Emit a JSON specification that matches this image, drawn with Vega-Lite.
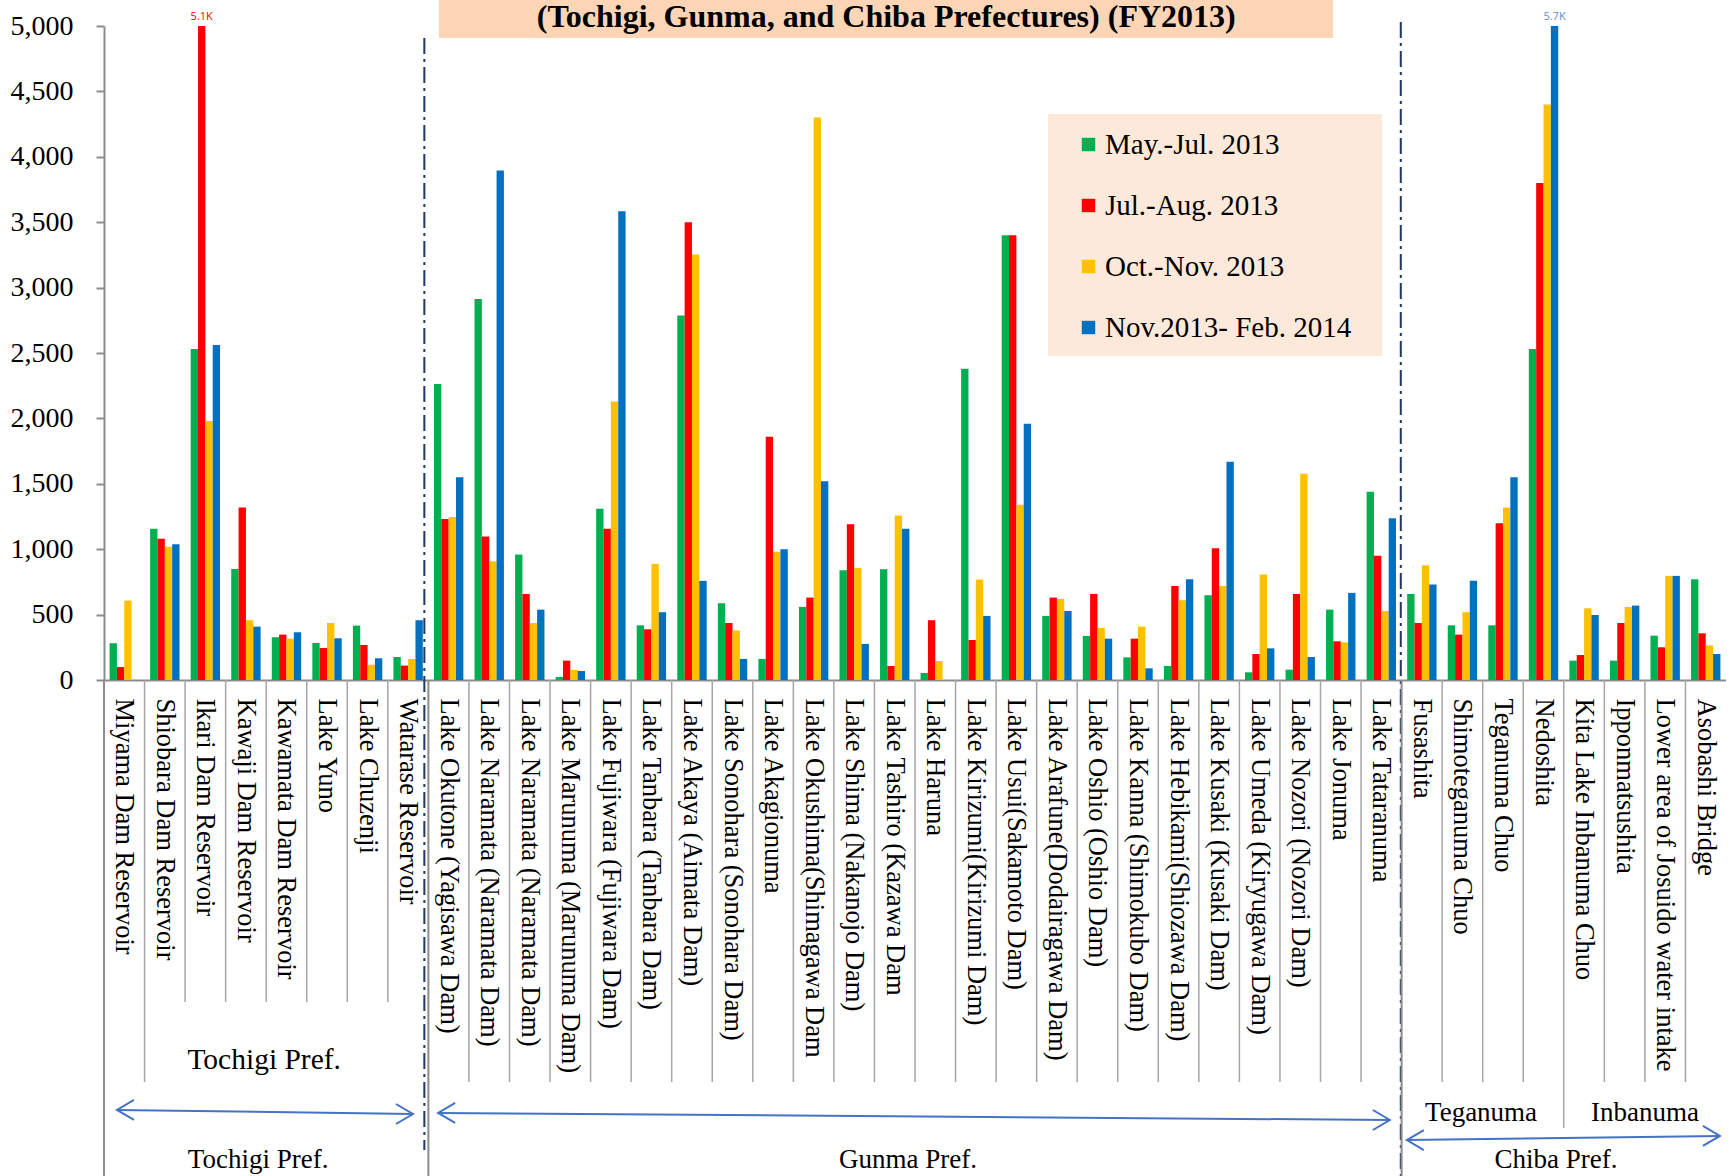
{
  "$schema": "https://vega.github.io/schema/vega-lite/v6.json",
  "width": 1622,
  "height": 654,
  "autosize": {"type": "none"},
  "padding": {"left": 104, "top": 26, "right": 0, "bottom": 496},
  "background": "white",
  "config": {
    "view": {"stroke": null},
    "font": "Liberation Serif",
    "axisY": {
      "gridColor": "#8C8C8C", "gridDash": [16, 6], "gridWidth": 2,
      "domainColor": "#8C8C8C", "domainWidth": 2,
      "tickColor": "#8C8C8C", "tickSize": 8, "tickWidth": 2,
      "labelFont": "Liberation Serif", "labelFontSize": 28, "labelColor": "black", "labelPadding": 23
    },
    "axisX": {
      "labelAngle": 90, "labelAlign": "left", "labelBaseline": "middle",
      "labelFont": "Liberation Serif", "labelFontSize": 26.5, "labelColor": "black",
      "labelPadding": 18, "ticks": false, "domainColor": "#8C8C8C", "domainWidth": 2,
      "labelLimit": 500, "labelOverlap": false, "grid": false
    }
  },
  "layer": [
    {
      "data": {"values": [{}]},
      "layer": [
        {
          "mark": {"type": "rect", "fill": "#FBD5B5"},
          "encoding": {
            "x": {"datum": 8.26, "type": "quantitative", "scale": {"domain": [0, 40], "nice": false, "zero": false}, "axis": null},
            "x2": {"datum": 30.31},
            "y": {"datum": 5250, "type": "quantitative", "axis": {"title": null}},
            "y2": {"datum": 4908}
          }
        },
        {
          "mark": {"type": "rect", "fill": "#FDE9D9"},
          "encoding": {
            "x": {"datum": 23.28, "type": "quantitative", "axis": null},
            "x2": {"datum": 31.52},
            "y": {"datum": 4327, "type": "quantitative", "axis": {"title": null}},
            "y2": {"datum": 2477}
          }
        },
        {
          "mark": {"type": "text", "text": "(Tochigi, Gunma, and Chiba Prefectures) (FY2013)", "font": "Liberation Serif", "fontSize": 32, "fontWeight": "bold", "color": "black", "align": "center", "baseline": "middle"},
          "encoding": {
            "x": {"datum": 19.29, "type": "quantitative", "axis": null},
            "y": {"datum": 5065, "type": "quantitative", "axis": {"title": null}}
          }
        },
        {
          "mark": {"type": "rule", "color": "#1F3864", "strokeWidth": 2, "strokeDash": [16, 5, 3, 5]},
          "encoding": {
            "x": {"datum": 7.9, "type": "quantitative", "axis": null},
            "y": {"datum": 4908, "type": "quantitative", "axis": {"title": null}},
            "y2": {"datum": -3593}
          }
        },
        {
          "mark": {"type": "rule", "color": "#1F3864", "strokeWidth": 2, "strokeDash": [16, 5, 3, 5]},
          "encoding": {
            "x": {"datum": 31.98, "type": "quantitative", "axis": null},
            "y": {"datum": 5031, "type": "quantitative", "axis": {"title": null}},
            "y2": {"datum": -3800}
          }
        },
        {
          "mark": {"type": "text", "text": "Tochigi Pref.", "fontSize": 29.5, "color": "black", "align": "center", "baseline": "middle"},
          "encoding": {
            "x": {"datum": 3.95, "type": "quantitative", "axis": null},
            "y": {"datum": -2905, "type": "quantitative", "axis": {"title": null}}
          }
        },
        {
          "mark": {"type": "text", "text": "Tochigi Pref.", "fontSize": 27, "color": "black", "align": "center", "baseline": "middle"},
          "encoding": {
            "x": {"datum": 3.8, "type": "quantitative", "axis": null},
            "y": {"datum": -3670, "type": "quantitative", "axis": {"title": null}}
          }
        },
        {
          "mark": {"type": "text", "text": "Gunma Pref.", "fontSize": 27, "color": "black", "align": "center", "baseline": "middle"},
          "encoding": {
            "x": {"datum": 19.83, "type": "quantitative", "axis": null},
            "y": {"datum": -3670, "type": "quantitative", "axis": {"title": null}}
          }
        },
        {
          "mark": {"type": "text", "text": "Chiba Pref.", "fontSize": 27, "color": "black", "align": "center", "baseline": "middle"},
          "encoding": {
            "x": {"datum": 35.81, "type": "quantitative", "axis": null},
            "y": {"datum": -3670, "type": "quantitative", "axis": {"title": null}}
          }
        },
        {
          "mark": {"type": "text", "text": "Teganuma", "fontSize": 27, "color": "black", "align": "center", "baseline": "middle"},
          "encoding": {
            "x": {"datum": 33.96, "type": "quantitative", "axis": null},
            "y": {"datum": -3310, "type": "quantitative", "axis": {"title": null}}
          }
        },
        {
          "mark": {"type": "text", "text": "Inbanuma", "fontSize": 27, "color": "black", "align": "center", "baseline": "middle"},
          "encoding": {
            "x": {"datum": 38.0, "type": "quantitative", "axis": null},
            "y": {"datum": -3310, "type": "quantitative", "axis": {"title": null}}
          }
        },
        {
          "mark": {"type": "rule", "color": "#4472C4", "strokeWidth": 2},
          "encoding": {
            "x": {"datum": 0.32, "type": "quantitative", "axis": null},
            "x2": {"datum": 7.62},
            "y": {"datum": -3287, "type": "quantitative", "axis": {"title": null}},
            "y2": {"datum": -3318}
          }
        },
        {
          "mark": {"type": "rule", "color": "#4472C4", "strokeWidth": 2},
          "encoding": {
            "x": {"datum": 8.24, "type": "quantitative", "axis": null},
            "x2": {"datum": 31.71},
            "y": {"datum": -3310, "type": "quantitative", "axis": {"title": null}},
            "y2": {"datum": -3364}
          }
        },
        {
          "mark": {"type": "rule", "color": "#4472C4", "strokeWidth": 2},
          "encoding": {
            "x": {"datum": 32.13, "type": "quantitative", "axis": null},
            "x2": {"datum": 39.85},
            "y": {"datum": -3517, "type": "quantitative", "axis": {"title": null}},
            "y2": {"datum": -3486}
          }
        },
        {
          "mark": {"type": "point", "shape": "M1.7,-1L0,0L1.7,1", "filled": false, "stroke": "#4472C4", "strokeWidth": 2, "size": 400, "opacity": 1},
          "encoding": {
            "x": {"datum": 0.32, "type": "quantitative", "axis": null},
            "y": {"datum": -3287, "type": "quantitative", "axis": {"title": null}}
          }
        },
        {
          "mark": {"type": "point", "shape": "M-1.7,-1L0,0L-1.7,1", "filled": false, "stroke": "#4472C4", "strokeWidth": 2, "size": 400, "opacity": 1},
          "encoding": {
            "x": {"datum": 7.62, "type": "quantitative", "axis": null},
            "y": {"datum": -3318, "type": "quantitative", "axis": {"title": null}}
          }
        },
        {
          "mark": {"type": "point", "shape": "M1.7,-1L0,0L1.7,1", "filled": false, "stroke": "#4472C4", "strokeWidth": 2, "size": 400, "opacity": 1},
          "encoding": {
            "x": {"datum": 8.24, "type": "quantitative", "axis": null},
            "y": {"datum": -3310, "type": "quantitative", "axis": {"title": null}}
          }
        },
        {
          "mark": {"type": "point", "shape": "M-1.7,-1L0,0L-1.7,1", "filled": false, "stroke": "#4472C4", "strokeWidth": 2, "size": 400, "opacity": 1},
          "encoding": {
            "x": {"datum": 31.71, "type": "quantitative", "axis": null},
            "y": {"datum": -3364, "type": "quantitative", "axis": {"title": null}}
          }
        },
        {
          "mark": {"type": "point", "shape": "M1.7,-1L0,0L1.7,1", "filled": false, "stroke": "#4472C4", "strokeWidth": 2, "size": 400, "opacity": 1},
          "encoding": {
            "x": {"datum": 32.13, "type": "quantitative", "axis": null},
            "y": {"datum": -3517, "type": "quantitative", "axis": {"title": null}}
          }
        },
        {
          "mark": {"type": "point", "shape": "M-1.7,-1L0,0L-1.7,1", "filled": false, "stroke": "#4472C4", "strokeWidth": 2, "size": 400, "opacity": 1},
          "encoding": {
            "x": {"datum": 39.85, "type": "quantitative", "axis": null},
            "y": {"datum": -3486, "type": "quantitative", "axis": {"title": null}}
          }
        }
      ]
    },
    {
      "data": {
        "values": [
          {"site": "Miyama Dam Reservoir", "May": 281, "Jul": 99, "Oct": 607, "Nov": null},
          {"site": "Shiobara Dam Reservoir", "May": 1156, "Jul": 1079, "Oct": 1018, "Nov": 1038},
          {"site": "Ikari Dam Reservoir", "May": 2531, "Jul": 5100, "Oct": 1980, "Nov": 2561},
          {"site": "Kawaji Dam Reservoir", "May": 849, "Jul": 1319, "Oct": 457, "Nov": 408},
          {"site": "Kawamata Dam Reservoir", "May": 327, "Jul": 347, "Oct": 316, "Nov": 365},
          {"site": "Lake Yuno", "May": 283, "Jul": 245, "Oct": 436, "Nov": 319},
          {"site": "Lake Chuzenji", "May": 416, "Jul": 268, "Oct": 117, "Nov": 166},
          {"site": "Watarase Reservoir", "May": 176, "Jul": 110, "Oct": 161, "Nov": 457},
          {"site": "Lake Okutone (Yagisawa Dam)", "May": 2263, "Jul": 1230, "Oct": 1247, "Nov": 1551},
          {"site": "Lake Naramata (Naramata Dam)", "May": 2913, "Jul": 1097, "Oct": 908, "Nov": 3895},
          {"site": "Lake Naramata (Naramata Dam) ", "May": 959, "Jul": 658, "Oct": 436, "Nov": 538},
          {"site": "Lake Marunuma  (Marunuma Dam)", "May": 23, "Jul": 148, "Oct": 77, "Nov": 69},
          {"site": "Lake Fujiwara (Fujiwara Dam)", "May": 1309, "Jul": 1156, "Oct": 2130, "Nov": 3584},
          {"site": "Lake Tanbara (Tanbara Dam)", "May": 418, "Jul": 388, "Oct": 888, "Nov": 518},
          {"site": "Lake Akaya (Aimata Dam)", "May": 2786, "Jul": 3500, "Oct": 3253, "Nov": 758},
          {"site": "Lake Sonohara (Sonohara Dam)", "May": 587, "Jul": 436, "Oct": 378, "Nov": 161},
          {"site": "Lake Akagionuma", "May": 161, "Jul": 1860, "Oct": 980, "Nov": 1000},
          {"site": "Lake Okushima(Shimagawa Dam", "May": 559, "Jul": 630, "Oct": 4300, "Nov": 1520},
          {"site": "Lake Shima (Nakanojo Dam)", "May": 839, "Jul": 1191, "Oct": 857, "Nov": 276},
          {"site": "Lake Tashiro (Kazawa Dam", "May": 847, "Jul": 107, "Oct": 1258, "Nov": 1156},
          {"site": "Lake Haruna", "May": 54, "Jul": 457, "Oct": 145, "Nov": null},
          {"site": "Lake Kirizumi(Kirizumi Dam)", "May": 2380, "Jul": 306, "Oct": 768, "Nov": 490},
          {"site": "Lake Usui(Sakamoto Dam)", "May": 3400, "Jul": 3400, "Oct": 1339, "Nov": 1959},
          {"site": "Lake Arafune(Dodairagawa Dam)", "May": 490, "Jul": 630, "Oct": 620, "Nov": 528},
          {"site": "Lake Oshio (Oshio Dam)", "May": 337, "Jul": 658, "Oct": 398, "Nov": 316},
          {"site": "Lake Kanna (Shimokubo Dam)", "May": 173, "Jul": 316, "Oct": 408, "Nov": 89},
          {"site": "Lake Hebikami(Shiozawa Dam)", "May": 107, "Jul": 719, "Oct": 610, "Nov": 770},
          {"site": "Lake Kusaki (Kusaki Dam)", "May": 648, "Jul": 1008, "Oct": 719, "Nov": 1668},
          {"site": "Lake Umeda (Kiryugawa Dam)", "May": 59, "Jul": 199, "Oct": 806, "Nov": 242},
          {"site": "Lake Nozori (Nozori Dam)", "May": 79, "Jul": 658, "Oct": 1577, "Nov": 176},
          {"site": "Lake Jonuma", "May": 538, "Jul": 296, "Oct": 288, "Nov": 666},
          {"site": "Lake Tataranuma", "May": 1439, "Jul": 949, "Oct": 528, "Nov": 1237},
          {"site": "Fusashita", "May": 658, "Jul": 436, "Oct": 878, "Nov": 730},
          {"site": "Shimoteganuma Chuo", "May": 418, "Jul": 347, "Oct": 518, "Nov": 758},
          {"site": "Teganuma Chuo", "May": 418, "Jul": 1199, "Oct": 1319, "Nov": 1551},
          {"site": "Nedoshita", "May": 2531, "Jul": 3800, "Oct": 4400, "Nov": 5700},
          {"site": "Kita Lake Inbanuma Chuo", "May": 148, "Jul": 191, "Oct": 548, "Nov": 497},
          {"site": "Ipponmatsushita", "May": 148, "Jul": 436, "Oct": 559, "Nov": 569},
          {"site": "Lower area of Josuido water intake", "May": 339, "Jul": 250, "Oct": 796, "Nov": 796},
          {"site": "Asobashi Bridge", "May": 770, "Jul": 357, "Oct": 265, "Nov": 199}
        ]
      },
      "layer": [
        {
          "transform": [{"filter": {"field": "site", "oneOf": ["Miyama Dam Reservoir", "Lake Okutone (Yagisawa Dam)", "Fusashita"]}}],
          "mark": {"type": "rule", "color": "#8C8C8C", "strokeWidth": 2},
          "encoding": {
            "x": {"field": "site", "type": "nominal", "bandPosition": 0, "axis": {"title": null}},
            "y": {"datum": 0, "type": "quantitative", "axis": {"title": null}},
            "y2": {"datum": -3800}
          }
        },
        {
          "transform": [{"filter": {"field": "site", "oneOf": ["Ikari Dam Reservoir", "Kawaji Dam Reservoir", "Kawamata Dam Reservoir", "Lake Yuno", "Lake Chuzenji", "Watarase Reservoir"]}}],
          "mark": {"type": "rule", "color": "#A6A6A6", "strokeWidth": 1.5},
          "encoding": {
            "x": {"field": "site", "type": "nominal", "bandPosition": 0, "axis": {"title": null}},
            "y": {"datum": 0, "type": "quantitative", "axis": {"title": null}},
            "y2": {"datum": -2462}
          }
        },
        {
          "transform": [{"filter": {"field": "site", "oneOf": ["Kita Lake Inbanuma Chuo"]}}],
          "mark": {"type": "rule", "color": "#A6A6A6", "strokeWidth": 1.5},
          "encoding": {
            "x": {"field": "site", "type": "nominal", "bandPosition": 0, "axis": {"title": null}},
            "y": {"datum": 0, "type": "quantitative", "axis": {"title": null}},
            "y2": {"datum": -3425}
          }
        },
        {
          "transform": [{"filter": {"not": {"field": "site", "oneOf": ["Miyama Dam Reservoir", "Lake Okutone (Yagisawa Dam)", "Fusashita", "Ikari Dam Reservoir", "Kawaji Dam Reservoir", "Kawamata Dam Reservoir", "Lake Yuno", "Lake Chuzenji", "Watarase Reservoir", "Kita Lake Inbanuma Chuo"]}}}],
          "mark": {"type": "rule", "color": "#A6A6A6", "strokeWidth": 1.5},
          "encoding": {
            "x": {"field": "site", "type": "nominal", "bandPosition": 0, "axis": {"title": null}},
            "y": {"datum": 0, "type": "quantitative", "axis": {"title": null}},
            "y2": {"datum": -3073}
          }
        },
        {
          "transform": [{"fold": ["May", "Jul", "Oct", "Nov"], "as": ["period", "value"]}],
          "mark": {"type": "bar", "clip": true},
          "encoding": {
            "x": {
              "field": "site", "type": "nominal", "axis": {"title": null},
              "scale": {"paddingInner": 0, "paddingOuter": 0, "domain": ["Miyama Dam Reservoir", "Shiobara Dam Reservoir", "Ikari Dam Reservoir", "Kawaji Dam Reservoir", "Kawamata Dam Reservoir", "Lake Yuno", "Lake Chuzenji", "Watarase Reservoir", "Lake Okutone (Yagisawa Dam)", "Lake Naramata (Naramata Dam)", "Lake Naramata (Naramata Dam) ", "Lake Marunuma  (Marunuma Dam)", "Lake Fujiwara (Fujiwara Dam)", "Lake Tanbara (Tanbara Dam)", "Lake Akaya (Aimata Dam)", "Lake Sonohara (Sonohara Dam)", "Lake Akagionuma", "Lake Okushima(Shimagawa Dam", "Lake Shima (Nakanojo Dam)", "Lake Tashiro (Kazawa Dam", "Lake Haruna", "Lake Kirizumi(Kirizumi Dam)", "Lake Usui(Sakamoto Dam)", "Lake Arafune(Dodairagawa Dam)", "Lake Oshio (Oshio Dam)", "Lake Kanna (Shimokubo Dam)", "Lake Hebikami(Shiozawa Dam)", "Lake Kusaki (Kusaki Dam)", "Lake Umeda (Kiryugawa Dam)", "Lake Nozori (Nozori Dam)", "Lake Jonuma", "Lake Tataranuma", "Fusashita", "Shimoteganuma Chuo", "Teganuma Chuo", "Nedoshita", "Kita Lake Inbanuma Chuo", "Ipponmatsushita", "Lower area of Josuido water intake", "Asobashi Bridge"]}
            },
            "xOffset": {"field": "period", "type": "nominal", "scale": {"domain": ["May", "Jul", "Oct", "Nov"], "paddingInner": 0, "paddingOuter": 0.76}},
            "y": {"field": "value", "type": "quantitative", "scale": {"domain": [0, 5000], "nice": false}, "axis": {"title": null, "values": [0, 500, 1000, 1500, 2000, 2500, 3000, 3500, 4000, 4500, 5000], "format": ",d"}},
            "color": {
              "field": "period", "type": "nominal",
              "scale": {"domain": ["May", "Jul", "Oct", "Nov"], "range": ["#00B050", "#FF0000", "#FFC000", "#0070C0"]},
              "legend": {
                "title": null, "orient": "none", "legendX": 970, "legendY": 104,
                "symbolType": "square", "symbolSize": 180, "symbolStrokeWidth": 0,
                "labelFont": "Liberation Serif", "labelFontSize": 29, "labelColor": "black",
                "labelLimit": 400, "labelOffset": 2, "rowPadding": 31, "padding": 0,
                "labelExpr": "datum.label == 'May' ? 'May.-Jul. 2013' : datum.label == 'Jul' ? 'Jul.-Aug. 2013' : datum.label == 'Oct' ? 'Oct.-Nov. 2013' : 'Nov.2013- Feb. 2014'"
              }
            }
          }
        },
        {
          "transform": [
            {"fold": ["May", "Jul", "Oct", "Nov"], "as": ["period", "value"]},
            {"filter": "datum.value > 5000"},
            {"calculate": "format(datum.value / 1000, '.1f') + 'K'", "as": "lbl"}
          ],
          "mark": {"type": "text", "font": "Open Sans", "fontSize": 11, "baseline": "bottom", "dy": -4, "align": "center"},
          "encoding": {
            "x": {"field": "site", "type": "nominal", "axis": {"title": null}},
            "xOffset": {"field": "period", "type": "nominal"},
            "y": {"datum": 5000, "type": "quantitative", "axis": {"title": null}},
            "text": {"field": "lbl"},
            "color": {"condition": {"test": "datum.period == 'Nov'", "value": "#5B8FD6"}, "value": "#FF0000"}
          }
        }
      ]
    }
  ],
  "resolve": {"scale": {"x": "independent"}}
}
